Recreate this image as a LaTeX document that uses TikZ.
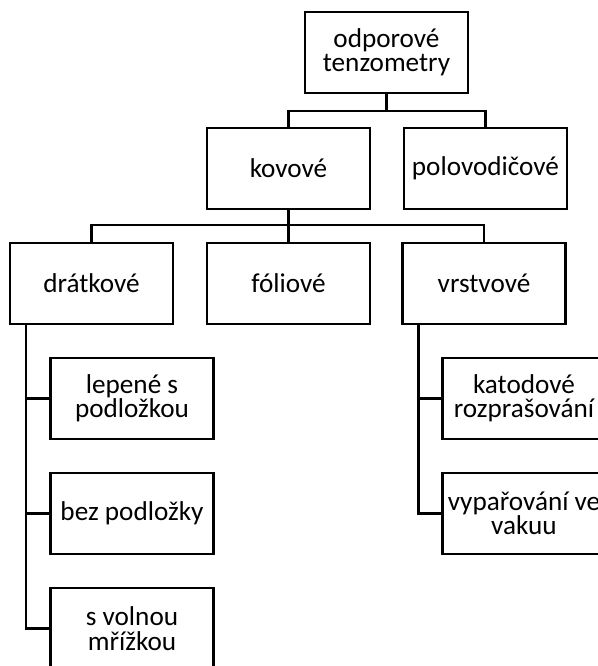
\documentclass[tikz,border=0pt]{standalone}
\usepackage{fontspec}
\setmainfont{Carlito}
\usepackage{tikz}
\usetikzlibrary{positioning}

\begin{document}
\begin{tikzpicture}[x=0.5pt, y=0.5pt,
    box/.style={draw, line width=1.2pt, minimum width=81.5pt, minimum height=40.5pt,
        inner sep=0pt, align=center, font=\fontsize{13.6}{12.2}\selectfont},
    link/.style={line width=1.2pt}]
    \clip (0,0) rectangle (598,666);

    % top level
    \node[box] (top) at (386.5,613.5) {odporové\\tenzometry};
    \node[box] (kovove) at (288.5,497.5) {kovové};
    \node[box] (polo) at (485.5,497.5) {polovodičové};

    % metal kinds
    \node[box] (drat) at (91.5,382.5) {drátkové};
    \node[box] (folio) at (288.5,382.5) {fóliové};
    \node[box] (vrst) at (484,382.5) {vrstvové};

    % wire gauges
    \node[box] (lep) at (132,267.5) {lepené s\\podložkou};
    \node[box] (bez) at (132,152.5) {bez podložky};
    \node[box] (svol) at (132,37.5) {s volnou\\mřížkou};

    % layer gauges
    \node[box] (kat) at (524,267.5) {katodové\\rozprašování};
    \node[box] (vyp) at (524,152.5) {vypařování ve\\vakuu};

    % connectors
    \draw[link] (top.south) -- ++(0,-17) coordinate (b1);
    \draw[link] (kovove.north) |- (b1) -| (polo.north);
    \draw[link] (kovove.south) -- (folio.north);
    \draw[link] (kovove.south) ++(0,-15) coordinate (b2);
    \draw[link] (drat.north) |- (b2) -| (vrst.north);

    \draw[link] (drat.south west) ++(17,0) coordinate (t1) |- (svol.west);
    \draw[link] (lep.west) -- (lep.west -| t1);
    \draw[link] (bez.west) -- (bez.west -| t1);

    \draw[link] (vrst.south west) ++(17,0) coordinate (t2) |- (vyp.west);
    \draw[link] (kat.west) -- (kat.west -| t2);
\end{tikzpicture}
\end{document}
